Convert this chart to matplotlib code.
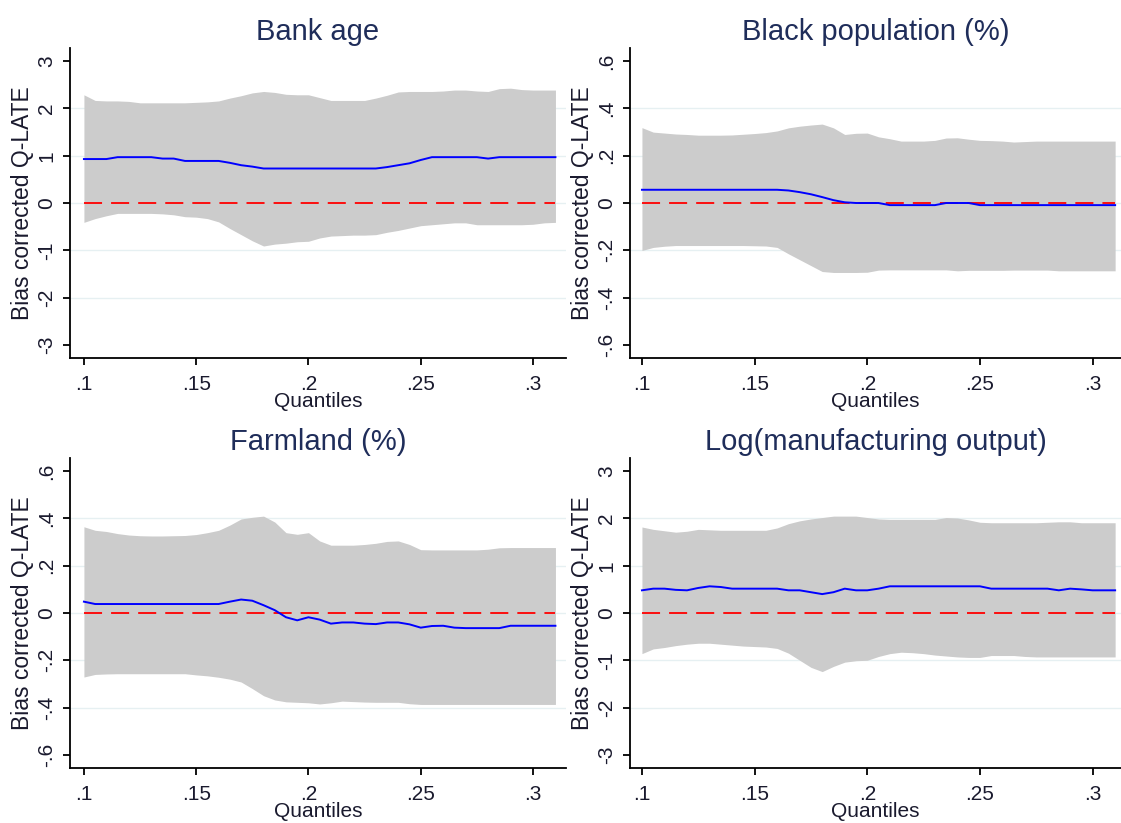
import matplotlib
matplotlib.use("Agg")
import matplotlib.pyplot as plt

plt.rcParams['font.family'] = ['Liberation Sans', 'DejaVu Sans']

quantiles = [0.100, 0.105, 0.110, 0.115, 0.120, 0.125, 0.130, 0.135, 0.140, 0.145,
             0.150, 0.155, 0.160, 0.165, 0.170, 0.175, 0.180, 0.185, 0.190, 0.195,
             0.200, 0.205, 0.210, 0.215, 0.220, 0.225, 0.230, 0.235, 0.240, 0.245,
             0.250, 0.255, 0.260, 0.265, 0.270, 0.275, 0.280, 0.285, 0.290, 0.295,
             0.300, 0.305, 0.310]

titles = ["Bank age", "Black population (%)", "Farmland (%)", "Log(manufacturing output)"]

# Bank age
est_bank = [0.93, 0.93, 0.93, 0.97, 0.97, 0.97, 0.97, 0.94, 0.94, 0.89,
            0.89, 0.89, 0.89, 0.85, 0.80, 0.77, 0.73, 0.73, 0.73, 0.73,
            0.73, 0.73, 0.73, 0.73, 0.73, 0.73, 0.73, 0.76, 0.80, 0.84,
            0.91, 0.97, 0.97, 0.97, 0.97, 0.97, 0.94, 0.97, 0.97, 0.97,
            0.97, 0.97, 0.97]
hi_bank = [2.29, 2.17, 2.16, 2.16, 2.15, 2.12, 2.12, 2.12, 2.12, 2.12,
           2.13, 2.14, 2.16, 2.22, 2.27, 2.33, 2.36, 2.34, 2.30, 2.29,
           2.29, 2.23, 2.17, 2.17, 2.17, 2.17, 2.22, 2.28, 2.35, 2.36,
           2.36, 2.36, 2.37, 2.39, 2.39, 2.37, 2.36, 2.42, 2.43, 2.40,
           2.39, 2.39, 2.39]
lo_bank = [-0.41, -0.33, -0.27, -0.22, -0.22, -0.22, -0.22, -0.23, -0.25, -0.29,
           -0.30, -0.33, -0.40, -0.54, -0.67, -0.80, -0.91, -0.87, -0.85, -0.82,
           -0.81, -0.74, -0.70, -0.69, -0.68, -0.68, -0.67, -0.62, -0.58, -0.53,
           -0.48, -0.46, -0.44, -0.42, -0.42, -0.46, -0.46, -0.46, -0.46, -0.46,
           -0.45, -0.42, -0.41]

# Black population (%)
est_black = [0.056, 0.056, 0.056, 0.056, 0.056, 0.056, 0.056, 0.056, 0.056, 0.056,
             0.056, 0.056, 0.056, 0.053, 0.046, 0.037, 0.025, 0.012, 0.003, 0.0,
             0.0, 0.0, -0.009, -0.009, -0.009, -0.009, -0.009, 0.0, 0.0, 0.0,
             -0.009, -0.009, -0.009, -0.009, -0.009, -0.009, -0.009, -0.009, -0.009, -0.009,
             -0.009, -0.009, -0.009]
hi_black = [0.319, 0.300, 0.296, 0.292, 0.290, 0.287, 0.287, 0.287, 0.288, 0.291,
            0.294, 0.298, 0.305, 0.318, 0.325, 0.330, 0.334, 0.318, 0.290, 0.295,
            0.296, 0.280, 0.272, 0.262, 0.262, 0.262, 0.265, 0.275, 0.276, 0.270,
            0.265, 0.264, 0.262, 0.258, 0.260, 0.262, 0.262, 0.262, 0.262, 0.262,
            0.262, 0.262, 0.262]
lo_black = [-0.201, -0.188, -0.183, -0.180, -0.180, -0.180, -0.180, -0.180, -0.180, -0.180,
            -0.181, -0.182, -0.188, -0.215, -0.240, -0.265, -0.290, -0.294, -0.294, -0.294,
            -0.293, -0.284, -0.283, -0.283, -0.283, -0.283, -0.283, -0.283, -0.287, -0.285,
            -0.285, -0.285, -0.285, -0.284, -0.284, -0.284, -0.284, -0.287, -0.287, -0.287,
            -0.287, -0.287, -0.287]

# Farmland (%)
est_farm = [0.048, 0.038, 0.038, 0.038, 0.038, 0.038, 0.038, 0.038, 0.038, 0.038,
            0.038, 0.038, 0.038, 0.048, 0.057, 0.052, 0.033, 0.012, -0.018, -0.031,
            -0.018, -0.028, -0.045, -0.040, -0.040, -0.045, -0.047, -0.040, -0.040, -0.048,
            -0.062, -0.055, -0.054, -0.062, -0.064, -0.064, -0.064, -0.064, -0.054, -0.054,
            -0.054, -0.054, -0.054]
hi_farm = [0.365, 0.350, 0.345, 0.336, 0.330, 0.327, 0.326, 0.326, 0.327, 0.328,
           0.332, 0.340, 0.350, 0.372, 0.398, 0.405, 0.410, 0.385, 0.340, 0.333,
           0.340, 0.305, 0.287, 0.287, 0.287, 0.290, 0.295, 0.303, 0.305, 0.290,
           0.268, 0.267, 0.267, 0.267, 0.267, 0.267, 0.270, 0.276, 0.277, 0.277,
           0.277, 0.277, 0.277]
lo_farm = [-0.271, -0.260, -0.258, -0.257, -0.257, -0.257, -0.257, -0.257, -0.257, -0.257,
           -0.262, -0.266, -0.272, -0.280, -0.292, -0.320, -0.350, -0.368, -0.376, -0.378,
           -0.380, -0.385, -0.380, -0.373, -0.375, -0.377, -0.378, -0.378, -0.378, -0.384,
           -0.387, -0.387, -0.387, -0.387, -0.387, -0.387, -0.387, -0.387, -0.387, -0.387,
           -0.387, -0.387, -0.387]

# Log(manufacturing output)
est_manu = [0.48, 0.515, 0.515, 0.49, 0.48, 0.53, 0.565, 0.55, 0.515, 0.515,
            0.515, 0.515, 0.515, 0.48, 0.48, 0.44, 0.40, 0.44, 0.515, 0.48,
            0.48, 0.515, 0.565, 0.565, 0.565, 0.565, 0.565, 0.565, 0.565, 0.565,
            0.565, 0.515, 0.515, 0.515, 0.515, 0.515, 0.515, 0.48, 0.515, 0.50,
            0.48, 0.48, 0.48]
hi_manu = [1.82, 1.77, 1.74, 1.71, 1.73, 1.77, 1.76, 1.75, 1.75, 1.75,
           1.75, 1.75, 1.80, 1.89, 1.95, 1.99, 2.02, 2.05, 2.05, 2.05,
           2.02, 1.99, 1.98, 1.98, 1.98, 1.98, 1.98, 2.02, 2.01, 1.97,
           1.92, 1.91, 1.91, 1.91, 1.91, 1.91, 1.92, 1.93, 1.93, 1.91,
           1.91, 1.91, 1.91]
lo_manu = [-0.86, -0.76, -0.73, -0.69, -0.66, -0.64, -0.64, -0.66, -0.68, -0.70,
           -0.71, -0.72, -0.75, -0.85, -1.00, -1.15, -1.24, -1.13, -1.04, -1.01,
           -1.00, -0.92, -0.86, -0.83, -0.84, -0.86, -0.89, -0.91, -0.93, -0.94,
           -0.94, -0.90, -0.90, -0.90, -0.92, -0.93, -0.93, -0.93, -0.93, -0.93,
           -0.93, -0.93, -0.93]

x_ticks = [0.10, 0.15, 0.20, 0.25, 0.30]
x_ticklabels = [".1", ".15", ".2", ".25", ".3"]
y_ticks_big = [-3, -2, -1, 0, 1, 2, 3]
y_labels_big = ["-3", "-2", "-1", "0", "1", "2", "3"]
y_ticks_small = [-0.6, -0.4, -0.2, 0, 0.2, 0.4, 0.6]
y_labels_small = ["-.6", "-.4", "-.2", "0", ".2", ".4", ".6"]

panels = [
    (titles[0], est_bank, hi_bank, lo_bank, y_ticks_big, y_labels_big, 3.28),
    (titles[1], est_black, hi_black, lo_black, y_ticks_small, y_labels_small, 0.656),
    (titles[2], est_farm, hi_farm, lo_farm, y_ticks_small, y_labels_small, 0.656),
    (titles[3], est_manu, hi_manu, lo_manu, y_ticks_big, y_labels_big, 3.28),
]

W, H = 1121, 823
fig = plt.figure(figsize=(W / 100, H / 100), dpi=100)
fig.patch.set_facecolor("white")

# axes boxes in pixels: left, right, top, bottom
boxes = [(70, 566, 48, 358), (630, 1121, 48, 358),
         (70, 566, 458, 768), (630, 1121, 458, 768)]
xlims = [(0.0938, 0.3147), (0.0947, 0.3126), (0.0938, 0.3147), (0.0947, 0.3126)]

title_color = "#1f2d5a"
text_color = "#1a1a2e"
grid_color = "#e6f0f2"

for i, (ttl, est, hi, lo, yt, yl, ylim) in enumerate(panels):
    l, r, t, b = boxes[i]
    ax = fig.add_axes([l / W, (H - b) / H, (r - l) / W, (b - t) / H])
    ax.set_xlim(*xlims[i])
    ax.set_ylim(-ylim, ylim)
    for v in yt[1:-1]:
        ax.axhline(v, color=grid_color, lw=1.0, zorder=0)
    ax.fill_between(quantiles, lo, hi, color="#cccccc", lw=0, zorder=1)
    ax.plot(quantiles, est, color="#0000ff", lw=1.4, zorder=3)
    ax.plot([quantiles[0], quantiles[-1]], [0, 0], color="#ff0000", lw=1.3,
            linestyle=(0, (10, 5)), zorder=2)
    ax.spines["top"].set_visible(False)
    ax.spines["right"].set_visible(False)
    for s in ("left", "bottom"):
        ax.spines[s].set_linewidth(1.3)
        ax.spines[s].set_color("black")
    ax.set_xticks(x_ticks)
    ax.set_xticklabels(x_ticklabels)
    ax.set_yticks(yt)
    ax.set_yticklabels(yl, rotation=90, va="center")
    ax.tick_params(axis="both", direction="out", length=5, width=1.3,
                   labelsize=15, colors="black", labelcolor=text_color, pad=5)
    ax.tick_params(axis="x", pad=7)
    ax.set_title(ttl, fontsize=21, color=title_color, pad=6)
    ax.set_xlabel("Quantiles", fontsize=15, color=text_color, labelpad=-1)
    ax.set_ylabel("Bias corrected Q-LATE", fontsize=16.5, color=text_color, labelpad=2)

fig.savefig("out.png", dpi=100, facecolor="white")
